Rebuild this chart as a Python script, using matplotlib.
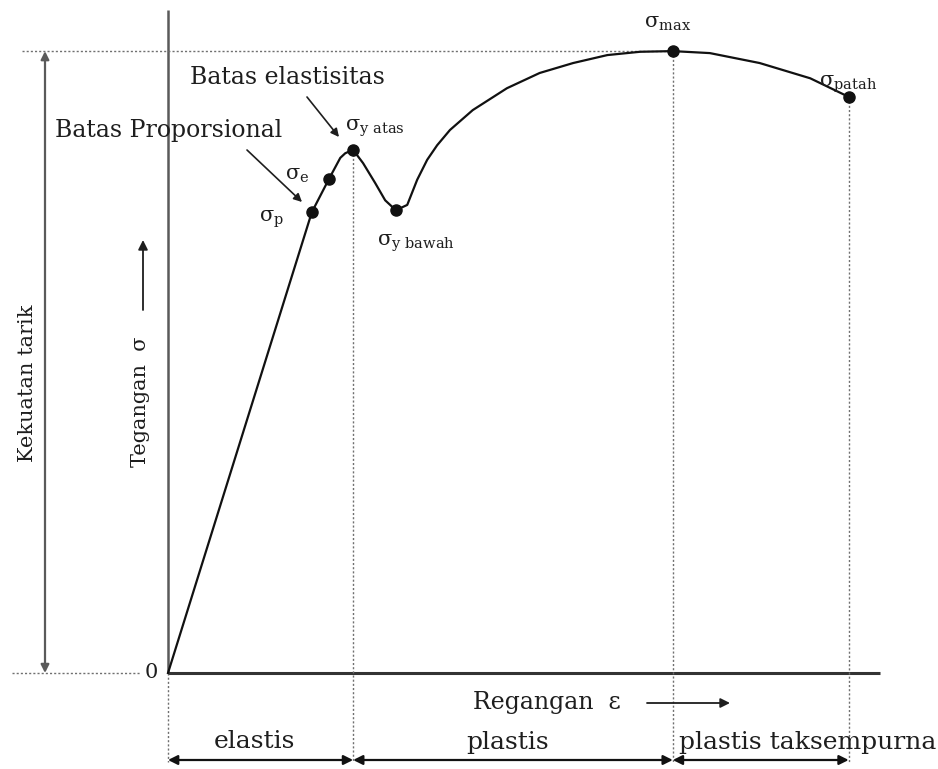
import matplotlib
matplotlib.use("Agg")
import matplotlib.pyplot as plt

plt.rcParams['font.family'] = ['DejaVu Serif', 'Liberation Serif']
plt.rcParams['mathtext.fontset'] = 'custom'
plt.rcParams['mathtext.rm'] = 'DejaVu Serif'

# ---- data (strain, stress in arbitrary units) ----
curve_strain = [0, 20.2, 22.6, 24.2, 24.9, 26.0, 27.4, 29.1, 30.5, 32.0, 33.6,
                35.0, 36.4, 37.8, 39.6, 42.8, 47.6, 52.2, 56.9, 61.7, 66.3,
                70.9, 76.1, 83.1, 90.2, 95.6]
curve_stress = [0, 69.5, 74.5, 77.7, 78.4, 78.9, 76.9, 73.9, 71.3, 69.8, 70.6,
                74.4, 77.4, 79.6, 81.9, 84.9, 88.2, 90.5, 92.0, 93.2, 93.7,
                93.8, 93.5, 92.0, 89.7, 86.9]

point_names = ['p', 'e', 'y atas', 'y bawah', 'max', 'patah']
point_strain = [20.2, 22.6, 26.0, 32.0, 70.9, 95.6]
point_stress = [69.5, 74.5, 78.9, 69.8, 93.8, 86.9]

regions = ['elastis', 'plastis', 'plastis taksempurna']
region_edges = [0, 26.0, 70.9, 95.6]

# ---- figure ----
W, H = 938, 769
fig = plt.figure(figsize=(W / 100, H / 100), dpi=100)
ax = fig.add_axes([0, 0, 1, 1])
SX, SY = 7.12, 6.63
ax.set_xlim((0 - 168) / SX, (W - 168) / SX)
ax.set_ylim((673 - H) / SY, (673 - 0) / SY)
ax.axis('off')


def py(v):
    return (673 - v) / SY


def px(v):
    return (v - 168) / SX


txt = '#1e1e1e'
axc = '#5a5a5a'
dotc = '#707070'

# axes lines
ax.plot([0, 0], [0, py(10)], color=axc, lw=1.8, solid_capstyle='butt')
ax.plot([0, px(880)], [0, 0], color='#333333', lw=2.2, solid_capstyle='butt')

y_bot = py(762)
dot = (0, (1.5, 1.5))
ax.plot([px(22), point_strain[4]], [point_stress[4]] * 2, ls=dot, color=dotc, lw=1.0)
ax.plot([px(12), px(140)], [0, 0], ls=dot, color=dotc, lw=1.0)
for xs, ys in [(0, 0), (point_strain[2], point_stress[2]),
               (point_strain[4], point_stress[4]), (point_strain[5], point_stress[5])]:
    ax.plot([xs, xs], [ys, y_bot], ls=dot, color=dotc, lw=1.0)

# Kekuatan tarik double arrow
ax.annotate('', xy=(px(45), point_stress[4]), xytext=(px(45), 0),
            arrowprops=dict(arrowstyle='<|-|>', color=axc, lw=1.6,
                            mutation_scale=12, shrinkA=0, shrinkB=0))
ax.text(px(28), py(383), 'Kekuatan tarik', rotation=90, ha='center', va='center',
        fontsize=15, color=txt)

# Tegangan
ax.text(px(140), py(402), 'Tegangan  σ', rotation=90, ha='center', va='center',
        fontsize=15, color=txt)
ax.annotate('', xy=(px(143), py(240)), xytext=(px(143), py(310)),
            arrowprops=dict(arrowstyle='-|>', color=txt, lw=1.3,
                            mutation_scale=14, shrinkA=0, shrinkB=0))

# zero
ax.text(px(151), 0, '0', ha='center', va='center', fontsize=15, color=txt)

# curve
ax.plot(curve_strain, curve_stress, color='#111111', lw=1.6, solid_joinstyle='round')
ax.plot(point_strain, point_stress, 'o', color='#111111', ms=8)

# point labels (offsets in pixels)
lab_off = {
    'p': (-40, 7),
    'e': (-32, -4),
    'y atas': (22, -22),
    'y bawah': (20, 33),
    'max': (-5, -28),
    'patah': (-1, -13),
}
for n, xs, ys in zip(point_names, point_strain, point_stress):
    dx, dy = lab_off[n]
    sub = n.replace(' ', r'\ ')
    ax.text(xs + dx / SX, ys - dy / SY, r'$\mathregular{σ_{%s}}$' % sub,
            ha='center', va='center', fontsize=15, color=txt)

# annotations with arrows
ax.text(px(190), py(77), 'Batas elastisitas', ha='left', va='center',
        fontsize=17, color=txt)
ax.annotate('', xy=(px(339), py(137)), xytext=(px(307), py(97)),
            arrowprops=dict(arrowstyle='-|>', color=txt, lw=1.2, mutation_scale=12,
                            shrinkA=0, shrinkB=0))
ax.text(px(55), py(130), 'Batas Proporsional', ha='left', va='center',
        fontsize=17, color=txt)
ax.annotate('', xy=(px(302), py(202)), xytext=(px(247), py(150)),
            arrowprops=dict(arrowstyle='-|>', color=txt, lw=1.2, mutation_scale=12,
                            shrinkA=0, shrinkB=0))

# Regangan
ax.text(px(473), py(703), 'Regangan  ε', ha='left', va='center',
        fontsize=17, color=txt)
ax.annotate('', xy=(px(730), py(703)), xytext=(px(647), py(703)),
            arrowprops=dict(arrowstyle='-|>', color=txt, lw=1.3, mutation_scale=14,
                            shrinkA=0, shrinkB=0))

# region arrows & labels
y_arr = py(760)
y_lab = py(742)
for i, r in enumerate(regions):
    x0, x1 = region_edges[i], region_edges[i + 1]
    ax.annotate('', xy=(x1, y_arr), xytext=(x0, y_arr),
                arrowprops=dict(arrowstyle='<|-|>', color='#111111', lw=1.6,
                                mutation_scale=14, shrinkA=0, shrinkB=0))
    if i < 2:
        ax.text((x0 + x1) / 2 - 0.8, y_lab, r, ha='center', va='center',
                fontsize=18, color=txt)
    else:
        ax.text(x0 + 0.8, y_lab, r, ha='left', va='center', fontsize=18, color=txt)

fig.savefig('out.png', dpi=100)
